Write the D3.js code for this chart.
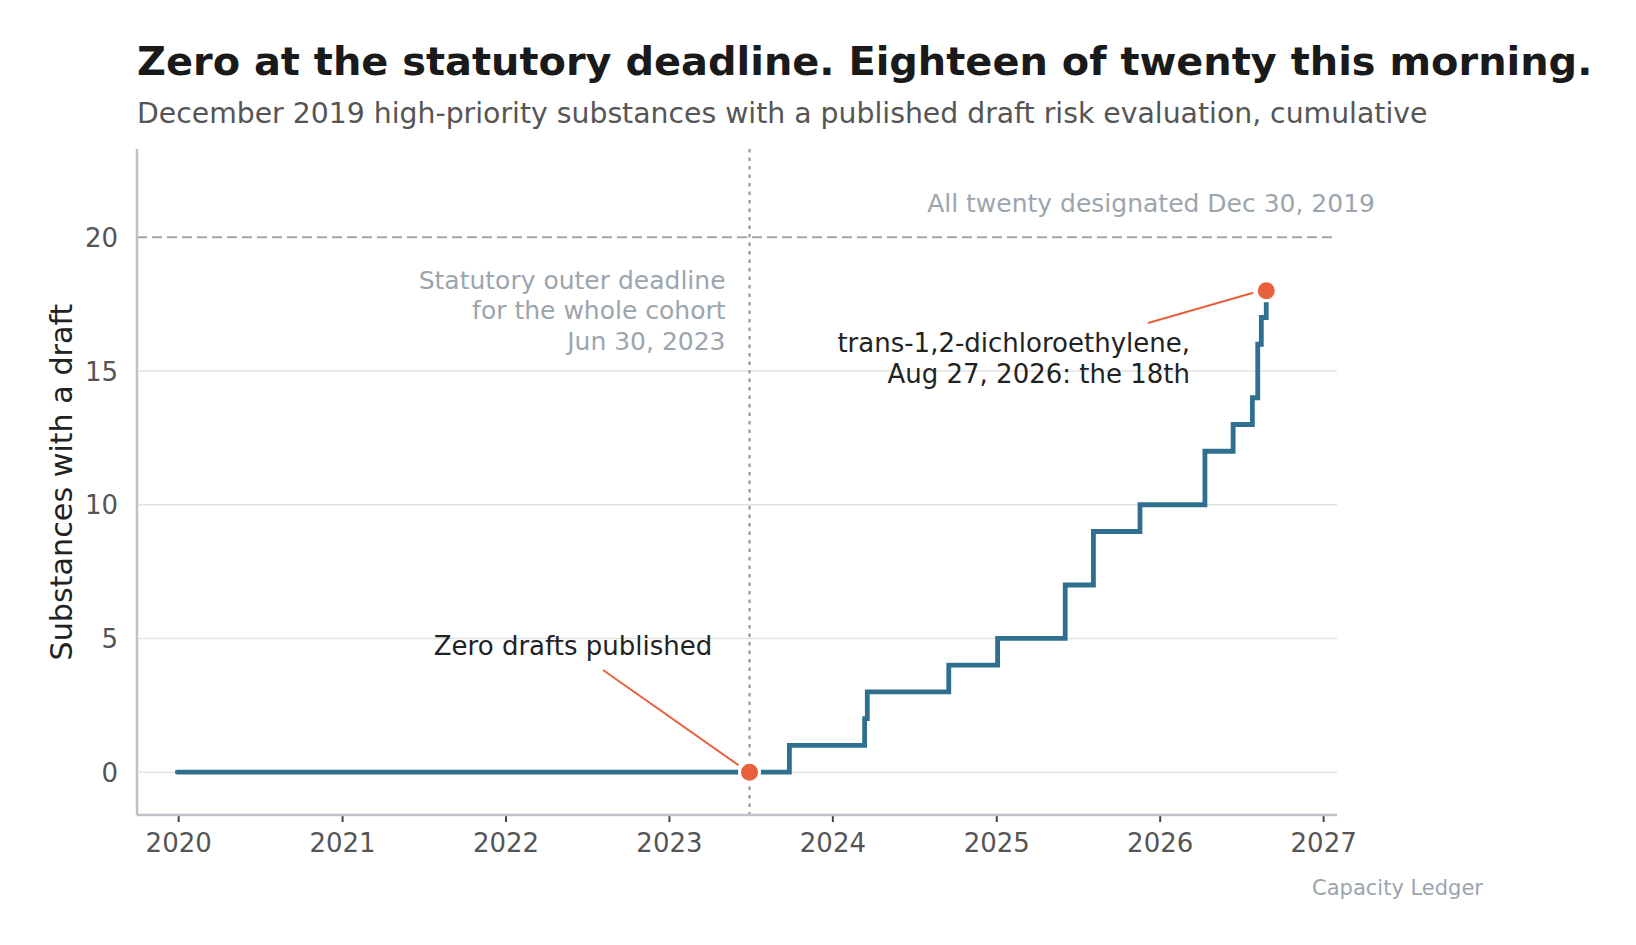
<!DOCTYPE html>
<html>
<head>
<meta charset="utf-8">
<script src="https://cdn.jsdelivr.net/npm/d3@7"></script>
<style>
  body { margin: 0; background: #fff; }
  svg { display: block; font-family: "DejaVu Sans", sans-serif; }
</style>
</head>
<body>
<div id="chart"></div>
<script>
// Cumulative count of drafts, one entry per step of the line
const stepDates = ["2019-12-30", "2023-09-27", "2024-03-13", "2024-03-19", "2024-09-17",
  "2025-01-04", "2025-06-04", "2025-08-06", "2025-11-18", "2026-04-12",
  "2026-06-14", "2026-07-27", "2026-08-08", "2026-08-16", "2026-08-27"];
const stepCounts = [0, 1, 2, 3, 4, 5, 7, 9, 10, 12, 13, 14, 16, 17, 18];

// Highlighted points
const markerDates = ["2023-06-30", "2026-08-27"];
const markerCounts = [0, 18];

const yTicks = [0, 5, 10, 15, 20];
const xTickYears = [2020, 2021, 2022, 2023, 2024, 2025, 2026, 2027];
const cohortSize = 20;
const deadlineDate = "2023-06-30";
const xLimits = ["2019-10-01", "2027-02-01"];
const yLimits = [-1.6, 23.3];

const parse = d3.utcParse("%Y-%m-%d");

const width = 1636, height = 945;
const margin = { top: 149, right: 299, bottom: 130, left: 137 };

const svg = d3.select("#chart")
  .append("svg")
  .attr("width", width)
  .attr("height", height);

const x = d3.scaleUtc()
  .domain(xLimits.map(parse))
  .range([margin.left, width - margin.right]);

const y = d3.scaleLinear()
  .domain(yLimits)
  .range([height - margin.bottom, margin.top]);

const gray = "#9ba5ae";
const orange = "#e8603c";
const blue = "#2f6f8f";

// Title and subtitle
svg.append("text")
  .attr("x", 137).attr("y", 75)
  .style("font-size", "39.9px").style("font-weight", "bold")
  .style("fill", "#1a1a1a")
  .text("Zero at the statutory deadline. Eighteen of twenty this morning.");

svg.append("text")
  .attr("x", 137).attr("y", 123)
  .style("font-size", "28.3px").style("fill", "#555")
  .text("December 2019 high-priority substances with a published draft risk evaluation, cumulative");

// Gridlines
svg.append("g")
  .selectAll("line")
  .data(yTicks.filter(d => d !== cohortSize))
  .enter()
  .append("line")
  .attr("x1", margin.left).attr("x2", width - margin.right)
  .attr("y1", d => y(d)).attr("y2", d => y(d))
  .style("stroke", "#e3e3e3").style("stroke-width", 1.5);

// Cohort size reference line
svg.append("line")
  .attr("x1", margin.left).attr("x2", width - margin.right)
  .attr("y1", y(cohortSize)).attr("y2", y(cohortSize))
  .style("stroke", "#a0a6ac").style("stroke-width", 2)
  .style("stroke-dasharray", "10,5");

svg.append("text")
  .attr("x", 1375).attr("y", y(cohortSize) - 25)
  .attr("text-anchor", "end")
  .style("font-size", "25px").style("fill", gray)
  .text("All twenty designated Dec 30, 2019");

// Deadline marker
svg.append("line")
  .attr("x1", x(parse(deadlineDate))).attr("x2", x(parse(deadlineDate)))
  .attr("y1", margin.top).attr("y2", height - margin.bottom)
  .style("stroke", "#999").style("stroke-width", 2.2)
  .style("stroke-dasharray", "3.5,5");

const deadlineLabel = svg.append("text")
  .attr("text-anchor", "end")
  .style("font-size", "25px").style("fill", gray);
["Statutory outer deadline", "for the whole cohort", "Jun 30, 2023"].forEach((t, i) => {
  deadlineLabel.append("tspan")
    .attr("x", x(parse(deadlineDate)) - 24)
    .attr("y", 289 + i * 30.3)
    .text(t);
});

// Axes
const xAxis = d3.axisBottom(x)
  .tickValues(xTickYears.map(yr => new Date(Date.UTC(yr, 0, 1))))
  .tickFormat(d3.utcFormat("%Y"))
  .tickSize(7).tickPadding(12);

const gx = svg.append("g")
  .attr("transform", "translate(0," + (height - margin.bottom) + ")")
  .call(xAxis);
gx.select(".domain").remove();
gx.selectAll(".tick line").style("stroke", "#444").style("stroke-width", 2);
gx.selectAll(".tick text")
  .attr("dy", null).attr("y", 37)
  .style("font-size", "26px").style("fill", "#555")
  .style("font-family", "DejaVu Sans, sans-serif");

const yAxis = d3.axisLeft(y)
  .tickValues(yTicks)
  .tickSize(0).tickPadding(19);

const gy = svg.append("g")
  .attr("transform", "translate(" + margin.left + ",0)")
  .call(yAxis);
gy.select(".domain").remove();
gy.selectAll(".tick text")
  .attr("dy", "0.35em")
  .style("font-size", "26px").style("fill", "#555")
  .style("font-family", "DejaVu Sans, sans-serif");

// Spines
svg.append("line")
  .attr("x1", margin.left).attr("x2", margin.left)
  .attr("y1", margin.top).attr("y2", height - margin.bottom)
  .style("stroke", "#bcc2c8").style("stroke-width", 2.5);
svg.append("line")
  .attr("x1", margin.left).attr("x2", width - margin.right)
  .attr("y1", height - margin.bottom).attr("y2", height - margin.bottom)
  .style("stroke", "#bcc2c8").style("stroke-width", 2.5);

svg.append("text")
  .attr("transform", "translate(72,482) rotate(-90)")
  .attr("text-anchor", "middle")
  .style("font-size", "30.2px").style("fill", "#222")
  .text("Substances with a draft");

// The step line
const steps = stepDates.map((d, i) => ({ date: parse(d), count: stepCounts[i] }));

const line = d3.line()
  .x(d => x(d.date))
  .y(d => y(d.count))
  .curve(d3.curveStepAfter);

svg.append("path")
  .datum(steps)
  .attr("d", line)
  .attr("fill", "none")
  .style("stroke", blue).style("stroke-width", 4.8)
  .style("stroke-linecap", "round");

// Leader lines for the annotations
const zeroPt = [x(parse(markerDates[0])), y(markerCounts[0])];
const lastPt = [x(parse(markerDates[1])), y(markerCounts[1])];

svg.append("line")
  .attr("x1", 603).attr("y1", 670)
  .attr("x2", zeroPt[0] - 11).attr("y2", zeroPt[1] - 7)
  .style("stroke", orange).style("stroke-width", 2);

svg.append("line")
  .attr("x1", 1148).attr("y1", 323)
  .attr("x2", lastPt[0] - 13).attr("y2", lastPt[1] + 2)
  .style("stroke", orange).style("stroke-width", 2);

svg.append("g")
  .selectAll("circle")
  .data(markerDates.map((d, i) => ({ date: parse(d), count: markerCounts[i] })))
  .enter()
  .append("circle")
  .attr("cx", d => x(d.date))
  .attr("cy", d => y(d.count))
  .attr("r", 10)
  .style("fill", orange)
  .style("stroke", "#fff").style("stroke-width", 3);

svg.append("text")
  .attr("x", 573).attr("y", 655)
  .attr("text-anchor", "middle")
  .style("font-size", "26px").style("fill", "#222")
  .text("Zero drafts published");

const lastLabel = svg.append("text")
  .attr("text-anchor", "end")
  .style("font-size", "26px").style("fill", "#222");
["trans-1,2-dichloroethylene,", "Aug 27, 2026: the 18th"].forEach((t, i) => {
  lastLabel.append("tspan")
    .attr("x", 1190).attr("y", 352 + i * 31.3)
    .text(t);
});

// Source
svg.append("text")
  .attr("x", 1483).attr("y", 895)
  .attr("text-anchor", "end")
  .style("font-size", "21px").style("fill", gray)
  .text("Capacity Ledger");
</script>
</body>
</html>
